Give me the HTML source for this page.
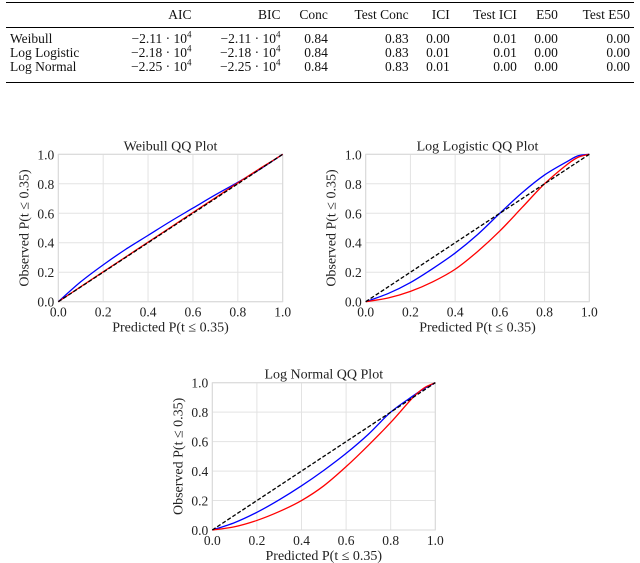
<!DOCTYPE html>
<html><head><meta charset="utf-8">
<style>
body{margin:0;width:640px;height:563px;background:#fff;font-family:"Liberation Serif",serif;position:relative;overflow:hidden}
table{position:absolute;left:6px;top:2px;width:628px;border-collapse:collapse;font-size:13.5px;color:#111}
td,th{font-weight:normal;padding:0 4px;height:14px;line-height:14px;text-align:right;white-space:nowrap}
td:first-child{text-align:left}
.top{border-top:1.6px solid #000}
.mid{border-top:0.8px solid #000}
.bot{border-bottom:1.6px solid #000}
.bot td{padding-bottom:8px}
sup{font-size:9px;line-height:0}
svg{position:absolute;left:0;top:0}
</style></head><body>
<table>
<tr class="top"><th style="height:24px"></th><th>AIC</th><th>BIC</th><th>Conc</th><th>Test Conc</th><th>ICI</th><th>Test ICI</th><th>E50</th><th>Test E50</th></tr>
<tr class="mid"><td style="padding-top:4px">Weibull</td><td style="padding-top:4px">−2.11 · 10<sup>4</sup></td><td style="padding-top:4px">−2.11 · 10<sup>4</sup></td><td style="padding-top:4px">0.84</td><td style="padding-top:4px">0.83</td><td style="padding-top:4px">0.00</td><td style="padding-top:4px">0.01</td><td style="padding-top:4px">0.00</td><td style="padding-top:4px">0.00</td></tr>
<tr><td>Log Logistic</td><td>−2.18 · 10<sup>4</sup></td><td>−2.18 · 10<sup>4</sup></td><td>0.84</td><td>0.83</td><td>0.01</td><td>0.01</td><td>0.00</td><td>0.00</td></tr>
<tr class="bot"><td>Log Normal</td><td>−2.25 · 10<sup>4</sup></td><td>−2.25 · 10<sup>4</sup></td><td>0.84</td><td>0.83</td><td>0.01</td><td>0.00</td><td>0.00</td><td>0.00</td></tr>
</table>
<svg id="chart" width="640" height="563"></svg>
<script>
const ticks=[0,0.2,0.4,0.6,0.8,1.0];
const tickLabels=["0.0","0.2","0.4","0.6","0.8","1.0"];
const xs=[0,0.1,0.2,0.3,0.4,0.5,0.6,0.7,0.8,0.9,0.95,1.0];
const weibullBlue=[0,0.135,0.25,0.355,0.45,0.545,0.635,0.725,0.81,0.9,0.95,1.0];
const weibullRed=[0,0.102,0.203,0.303,0.404,0.504,0.605,0.705,0.806,0.905,0.952,1.0];
const logLogBlue=[0,0.055,0.13,0.225,0.33,0.455,0.6,0.74,0.86,0.95,0.99,1.0];
const logLogRed=[0,0.025,0.07,0.135,0.22,0.34,0.48,0.64,0.8,0.93,0.98,1.0];
const logNormBlue=[0,0.05,0.12,0.205,0.3,0.405,0.52,0.65,0.8,0.91,0.96,1.0];
const logNormRed=[0,0.022,0.065,0.125,0.2,0.3,0.43,0.575,0.73,0.9,0.965,1.0];
const plots=[
 {name:"weibull",title:"Weibull QQ Plot",x0:58.3,x1:282.7,y0:301.7,y1:154.3,blue:weibullBlue,red:weibullRed},
 {name:"log-logistic",title:"Log Logistic QQ Plot",x0:365.7,x1:589.3,y0:301.7,y1:154.3,blue:logLogBlue,red:logLogRed},
 {name:"log-normal",title:"Log Normal QQ Plot",x0:212.3,x1:435.3,y0:530,y1:382.7,blue:logNormBlue,red:logNormRed}
];
const NS="http://www.w3.org/2000/svg";
const svg=document.getElementById('chart');
function mk(tag,attrs,parent){const e=document.createElementNS(NS,tag);for(const k in attrs)e.setAttribute(k,attrs[k]);parent.appendChild(e);return e;}
function smooth(pts){
 let d='M'+pts[0][0].toFixed(2)+','+pts[0][1].toFixed(2);
 for(let i=0;i<pts.length-1;i++){
  const p0=pts[Math.max(i-1,0)],p1=pts[i],p2=pts[i+1],p3=pts[Math.min(i+2,pts.length-1)];
  const c1=[p1[0]+(p2[0]-p0[0])/6,p1[1]+(p2[1]-p0[1])/6];
  const c2=[p2[0]-(p3[0]-p1[0])/6,p2[1]-(p3[1]-p1[1])/6];
  d+=' C'+c1.map(v=>v.toFixed(2)).join(',')+' '+c2.map(v=>v.toFixed(2)).join(',')+' '+p2.map(v=>v.toFixed(2)).join(',');
 }
 return d;
}
plots.forEach(p=>{
 const sx=v=>p.x0+v*(p.x1-p.x0), sy=v=>p.y0+v*(p.y1-p.y0);
 const g=mk('g',{},svg);
 
 
 ticks.forEach((t,i)=>{
  const gx=mk('line',{x1:sx(t),x2:sx(t),y1:p.y0,y2:p.y1,stroke:'#e3e3e3','stroke-width':1},g);
  
  
  const gy=mk('line',{x1:p.x0,x2:p.x1,y1:sy(t),y2:sy(t),stroke:'#e3e3e3','stroke-width':1},g);
  
  
  const tx=mk('text',{x:sx(t),y:p.y0+15,'text-anchor':'middle','font-size':'13.5',fill:'#222'},g);
  tx.textContent=tickLabels[i];
  
  
  const ty=mk('text',{x:p.x0-4,y:sy(t)+5,'text-anchor':'end','font-size':'13.5',fill:'#222'},g);
  ty.textContent=tickLabels[i];
  
  
 });
 const fr=mk('rect',{x:p.x0,y:p.y1,width:p.x1-p.x0,height:p.y0-p.y1,fill:'none',stroke:'#d8d8d8','stroke-width':1},g);
 
 
 const line=(arr,color,dash,nm)=>{
  const pts=xs.map((x,i)=>[sx(x),sy(arr[i])]);
  const a={d:smooth(pts),fill:'none',stroke:color,'stroke-width':1.3};
  if(dash)a['stroke-dasharray']=dash;
  const e=mk('path',a,g);
  
  
 };
 line(p.blue,'#0000ff',null,'blue-series');
 line(p.red,'#ff0000',null,'red-series');
 line(xs,'#000','4,2','identity-line');
 const t=mk('text',{x:(p.x0+p.x1)/2,y:p.y1-4,'text-anchor':'middle','font-size':'14',fill:'#222'},g);
 t.textContent=p.title;
 
 
 const xl=mk('text',{x:(p.x0+p.x1)/2,y:p.y0+30,'text-anchor':'middle','font-size':'14',fill:'#222'},g);
 xl.textContent='Predicted P(t ≤ 0.35)';
 
 
 const cy=(p.y0+p.y1)/2;
 const yl=mk('text',{x:p.x0-30,y:cy,'text-anchor':'middle','font-size':'14',fill:'#222',transform:'rotate(-90 '+(p.x0-30)+' '+cy+')'},g);
 yl.textContent='Observed P(t ≤ 0.35)';
 
 
});
</script>
</body></html>
